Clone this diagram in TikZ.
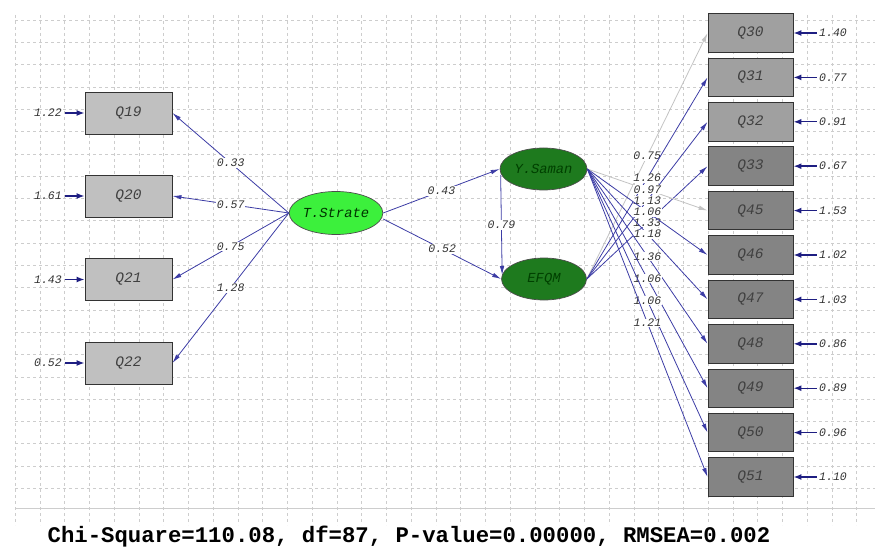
\documentclass[tikz,border=0pt]{standalone}
\usepackage{fontspec}
\usetikzlibrary{arrows.meta,shapes.geometric}
\newfontfamily\lismono{Liberation Mono}
\definecolor{pathblue}{RGB}{60,60,165}
\definecolor{tipblue}{RGB}{30,30,130}
\definecolor{gridgrey}{RGB}{205,205,205}
\definecolor{lightline}{RGB}{195,195,195}
\definecolor{boxlight}{RGB}{192,192,192}
\definecolor{boxmid}{RGB}{160,160,160}
\definecolor{boxdark}{RGB}{132,132,132}
\definecolor{lime}{RGB}{60,240,60}
\definecolor{darkgreen}{RGB}{30,122,30}
\begin{document}
\begin{tikzpicture}[x=1pt,y=-1pt,
  obsleft/.style={draw=black!80,line width=0.9pt,fill=boxlight,minimum width=87pt,minimum height=42pt,inner sep=0pt,font=\lismono\itshape\fontsize{14.5}{14.5}\selectfont,text=black!75},
  obsright/.style={draw=black!80,line width=0.9pt,fill=boxdark,minimum width=85pt,minimum height=38.5pt,inner sep=0pt,font=\lismono\itshape\fontsize{14.5}{14.5}\selectfont,text=black!75},
  latent/.style={ellipse,draw=black!70,line width=0.7pt,minimum width=86pt,minimum height=43pt,inner sep=0pt,font=\lismono\itshape\fontsize{13.8}{13.8}\selectfont},
  errlab/.style={inner sep=0.5pt,font=\lismono\itshape\fontsize{11.5}{11.5}\selectfont,text=black!80},
  coef/.style={fill=white,inner sep=0.6pt,font=\lismono\itshape\fontsize{11.5}{11.5}\selectfont,text=black!80,pos=0.5},
  pathline/.style={draw=pathblue,line width=0.8pt,-{Latex[length=9pt,width=4.5pt]},color=pathblue},
  greyline/.style={draw=lightline,line width=0.8pt,-{Latex[length=9pt,width=4.5pt]},color=lightline},
  errarrow/.style={draw=tipblue,line width=1.4pt,-{Latex[length=8pt,width=6pt]}}
]
\useasboundingbox (0,0) rectangle (875,548);
% grid
\foreach \i in {0,...,34} {
  \draw[gridgrey,dashed,line width=0.5pt] ({15+24.75*\i},15) -- ({15+24.75*\i},525);
}
\foreach \j in {0,...,21} {
  \draw[gridgrey,dashed,line width=0.5pt] (15,{20+22.3*\j}) -- (875,{20+22.3*\j});
}
\draw[gridgrey,line width=0.5pt] (15,508) -- (875,508);

% left observed
\node[obsleft] (q19) at (128.5,113) {Q19};
\node[obsleft] (q20) at (128.5,196) {Q20};
\node[obsleft] (q21) at (128.5,279.5) {Q21};
\node[obsleft] (q22) at (128.5,363) {Q22};

% latent
\node[latent,fill=lime,text=black!80!green] (ts) at (336,213) {T.Strate};
\node[latent,fill=darkgreen,text=black!75!green,minimum width=87pt,minimum height=42pt] (ys) at (543.5,169) {Y.Saman};
\node[latent,fill=darkgreen,text=black!75!green,minimum width=85pt,minimum height=42pt] (ef) at (544,279) {EFQM};

% right observed
\node[obsright,fill=boxmid] (q30) at (750.5,33) {Q30};
\node[obsright,fill=boxmid] (q31) at (750.5,77.4) {Q31};
\node[obsright,fill=boxmid] (q32) at (750.5,121.8) {Q32};
\node[obsright] (q33) at (750.5,166.2) {Q33};
\node[obsright] (q45) at (750.5,210.6) {Q45};
\node[obsright] (q46) at (750.5,255) {Q46};
\node[obsright] (q47) at (750.5,299.4) {Q47};
\node[obsright] (q48) at (750.5,343.8) {Q48};
\node[obsright] (q49) at (750.5,388.2) {Q49};
\node[obsright] (q50) at (750.5,432.6) {Q50};
\node[obsright] (q51) at (750.5,477) {Q51};

% left errors
\node[errlab] (e19) at (48,113) {1.22};
\node[errlab] (e20) at (48,196) {1.61};
\node[errlab] (e21) at (48,279.5) {1.43};
\node[errlab] (e22) at (48,363) {0.52};
\foreach \n in {19,20,21,22} { \draw[errarrow] ([xshift=2pt]e\n.east) -- (q\n.west); }

% right errors
\node[errlab] (e30) at (833,33) {1.40};
\node[errlab] (e31) at (833,77.4) {0.77};
\node[errlab] (e32) at (833,121.8) {0.91};
\node[errlab] (e33) at (833,166.2) {0.67};
\node[errlab] (e45) at (833,210.6) {1.53};
\node[errlab] (e46) at (833,255) {1.02};
\node[errlab] (e47) at (833,299.4) {1.03};
\node[errlab] (e48) at (833,343.8) {0.86};
\node[errlab] (e49) at (833,388.2) {0.89};
\node[errlab] (e50) at (833,432.6) {0.96};
\node[errlab] (e51) at (833,477) {1.10};
\foreach \n in {30,31,32,33,45,46,47,48,49,50,51} { \draw[errarrow] ([xshift=-2pt]e\n.west) -- (q\n.east); }

% T.Strate loadings
\draw[pathline] (ts.west) -- node[coef] (c19) {0.33} (q19.east);
\draw[pathline] (ts.west) -- node[coef] (c20) {0.57} (q20.east);
\draw[pathline] (ts.west) -- node[coef] (c21) {0.75} (q21.east);
\draw[pathline] (ts.west) -- node[coef] (c22) {1.28} (q22.east);

% structural paths
\draw[pathline] (ts.east) -- node[coef] (cys) {0.43} (ys.west);
\draw[pathline] ([yshift=-6pt]ts.east) -- node[coef] (cef) {0.52} (ef.west);
\draw[pathline] ([yshift=-6pt,xshift=1pt]ys.west) -- node[coef] (cyse) {0.79} ([yshift=4pt,xshift=1pt]ef.west);

% right loadings
\draw[greyline] (ef.east) -- node[coef] (c30) {0.75} (q30.west);
\draw[pathline] (ef.east) -- node[coef] (c31) {1.26} (q31.west);
\draw[pathline] (ef.east) -- node[coef] (c32) {1.13} (q32.west);
\draw[pathline] (ef.east) -- node[coef] (c33) {1.33} (q33.west);
\draw[greyline] (ys.east) -- node[coef] (c45) {0.97} (q45.west);
\draw[pathline] (ys.east) -- node[coef] (c46) {1.06} (q46.west);
\draw[pathline] (ys.east) -- node[coef] (c47) {1.18} (q47.west);
\draw[pathline] (ys.east) -- node[coef] (c48) {1.36} (q48.west);
\draw[pathline] (ys.east) -- node[coef] (c49) {1.06} (q49.west);
\draw[pathline] (ys.east) -- node[coef] (c50) {1.06} (q50.west);
\draw[pathline] (ys.east) -- node[coef] (c51) {1.21} (q51.west);

% fit statistics
\node[font=\lismono\bfseries\fontsize{22.3}{22.3}\selectfont,inner sep=0pt] (fit) at (409,537) {Chi-Square=110.08, df=87, P-value=0.00000, RMSEA=0.002};
\end{tikzpicture}
\end{document}
